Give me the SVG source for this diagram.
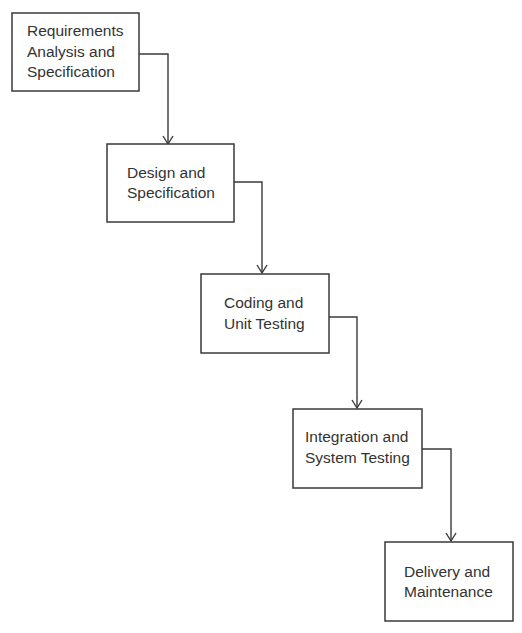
<svg xmlns="http://www.w3.org/2000/svg" width="522" height="633" viewBox="0 0 522 633">
<defs>
<style>
.box{fill:#fff;stroke:#3a3a3a;stroke-width:1.5}
.lbl{font-family:"Liberation Sans",Arial,sans-serif;font-size:15.5px;fill:#333}
.con{fill:none;stroke:#3a3a3a;stroke-width:1.4}
</style>
<marker id="arr" markerWidth="12" markerHeight="10" refX="5" refY="8" orient="auto-start-reverse" markerUnits="userSpaceOnUse" viewBox="0 0 12 10">
<polyline points="0,1 5,8 10,1" transform="translate(0,0)" fill="none" stroke="#3a3a3a" stroke-width="1.5"/>
</marker>
</defs>
<rect width="522" height="633" fill="#fff"/>
<g id="connectors">
<path class="con" d="M139,54 H168 V144"/>
<path class="con" d="M234,182 H262 V273"/>
<path class="con" d="M329,317 H357 V408"/>
<path class="con" d="M422,449 H451 V541"/>
<path d="M163,136 L168,144 L173,136" class="con"/>
<path d="M257,265 L262,273 L267,265" class="con"/>
<path d="M352,400 L357,408 L362,400" class="con"/>
<path d="M446,533 L451,541 L456,533" class="con"/>
</g>
<g id="n1">
<rect class="box" x="12" y="13" width="127" height="78"/>
<text class="lbl" x="27" y="36">Requirements</text>
<text class="lbl" x="27" y="57">Analysis and</text>
<text class="lbl" x="27" y="77">Specification</text>
</g>
<g id="n2">
<rect class="box" x="107" y="144" width="127" height="78"/>
<text class="lbl" x="127" y="178">Design and</text>
<text class="lbl" x="127" y="198">Specification</text>
</g>
<g id="n3">
<rect class="box" x="201" y="274" width="128" height="79"/>
<text class="lbl" x="224" y="308">Coding and</text>
<text class="lbl" x="224" y="329">Unit Testing</text>
</g>
<g id="n4">
<rect class="box" x="293" y="409" width="129" height="79"/>
<text class="lbl" x="305" y="442">Integration and</text>
<text class="lbl" x="305" y="463">System Testing</text>
</g>
<g id="n5">
<rect class="box" x="385" y="542" width="128" height="79"/>
<text class="lbl" x="404" y="577">Delivery and</text>
<text class="lbl" x="404" y="597">Maintenance</text>
</g>
</svg>
